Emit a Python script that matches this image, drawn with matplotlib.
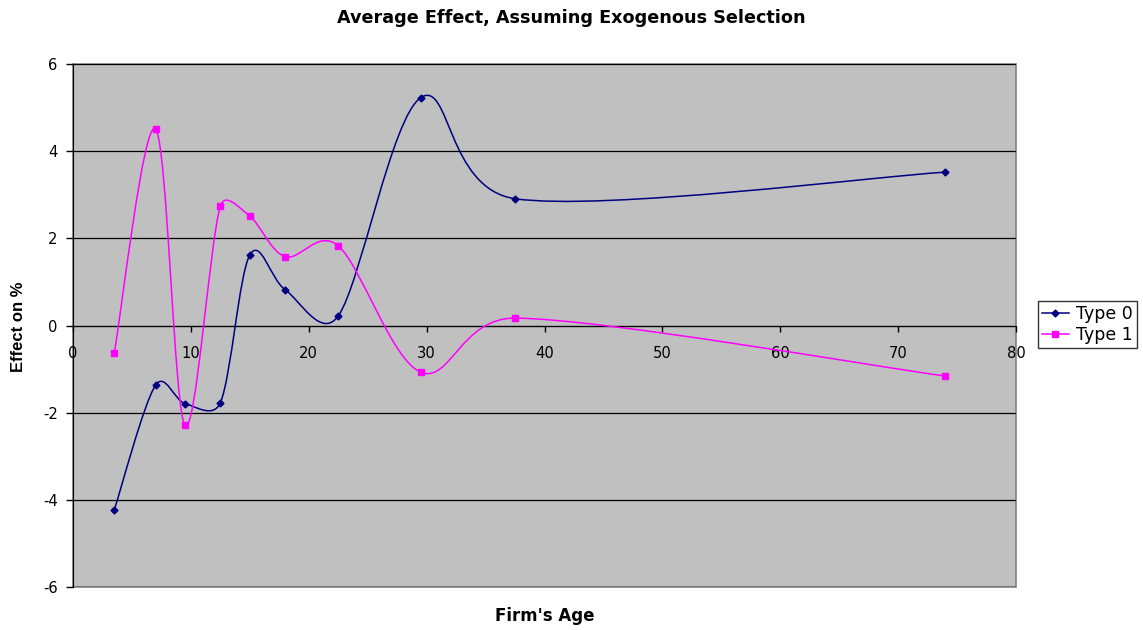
import numpy as np
import matplotlib
matplotlib.use("Agg")
import matplotlib.pyplot as plt
from matplotlib.path import Path
from matplotlib.patches import PathPatch
from matplotlib.lines import Line2D

plt.rcParams['font.family'] = ['DejaVu Sans']
plt.rcParams['axes.unicode_minus'] = False

age = [3.5, 7, 9.5, 12.5, 15, 18, 22.5, 29.5, 37.5, 74]
type0 = [-4.23, -1.37, -1.79, -1.77, 1.62, 0.82, 0.22, 5.23, 2.91, 3.52]
type1 = [-0.62, 4.51, -2.29, 2.74, 2.51, 1.58, 1.83, -1.07, 0.17, -1.16]

series = [
    ("Type 0", type0, "#000080", "D", 3.5),
    ("Type 1", type1, "#FF00FF", "s", 4),
]


def smooth_path(ax, x, y):
    # excel style smoothing: bezier through each point, handles worked out in pixels
    # and capped at half the segment length
    pts = ax.transData.transform(np.column_stack([x, y]))
    n = len(pts)
    verts = [pts[0]]
    codes = [Path.MOVETO]
    for i in range(n - 1):
        p0 = pts[max(i - 1, 0)]
        p1 = pts[i]
        p2 = pts[i + 1]
        p3 = pts[min(i + 2, n - 1)]
        d12 = np.hypot(*(p2 - p1))
        d02 = np.hypot(*(p2 - p0))
        d13 = np.hypot(*(p3 - p1))
        f0 = 1 / 6.0
        f1 = 1 / 6.0
        if d02 / 6.0 > d12 / 2.0:
            f0 = d12 / (2.0 * d02)
        if d13 / 6.0 > d12 / 2.0:
            f1 = d12 / (2.0 * d13)
        c1 = p1 + (p2 - p0) * f0
        c2 = p2 - (p3 - p1) * f1
        verts += [c1, c2, p2]
        codes += [Path.CURVE4] * 3
    verts = ax.transData.inverted().transform(np.array(verts))
    return Path(verts, codes)


fig = plt.figure(figsize=(11.43, 6.3), dpi=100)
ax = fig.add_axes([0.0639, 0.0683, 0.825, 0.830])
ax.set_facecolor("#C0C0C0")
ax.patch.set_edgecolor("#808080")
ax.patch.set_linewidth(1.2)

ax.set_xlim(0, 80)
ax.set_ylim(-6, 6)
ax.set_xticks(range(0, 81, 10))
ax.set_yticks(range(-6, 7, 2))

handles = []
for name, vals, col, mk, ms in series:
    ax.add_patch(PathPatch(smooth_path(ax, age, vals), fill=False, edgecolor=col, lw=1.1, zorder=3))
    ax.plot(age, vals, linestyle="none", marker=mk, color=col, markersize=ms, zorder=4)
    handles.append(Line2D([], [], color=col, marker=mk, markersize=ms, lw=1.1, label=name))

ax.yaxis.grid(True, color="black", lw=0.9)
ax.set_axisbelow(True)

ax.spines["top"].set_visible(False)
ax.spines["right"].set_visible(False)
ax.spines["left"].set_color("black")
ax.spines["bottom"].set_position(("data", 0))
ax.spines["bottom"].set_color("black")
ax.tick_params(axis="both", direction="out", width=1, labelsize=10.6, colors="black")
ax.tick_params(axis="y", length=5, pad=6)
ax.tick_params(axis="x", length=4, pad=11)

fig.text(0.5, 1 - 23 / 630, "Average Effect, Assuming Exogenous Selection",
         fontsize=12.7, fontweight="bold", ha="center", va="baseline")
fig.text(19 / 1143, 1 - 327 / 630, "Effect on %", family="Liberation Sans", fontsize=12,
         fontweight="bold", rotation=90, ha="center", va="center")
fig.text(544.5 / 1143, 1 - 621 / 630, "Firm's Age", fontsize=12, fontweight="bold",
         ha="center", va="baseline")

leg = ax.legend(handles=handles, loc="center left", bbox_to_anchor=(1.023, 0.502),
                fontsize=12.5, frameon=True, fancybox=False, edgecolor="black",
                borderpad=0.22, handlelength=1.6, handletextpad=0.4,
                labelspacing=0.15, borderaxespad=0)
leg.get_frame().set_linewidth(1)

fig.savefig("out.png", dpi=100)
